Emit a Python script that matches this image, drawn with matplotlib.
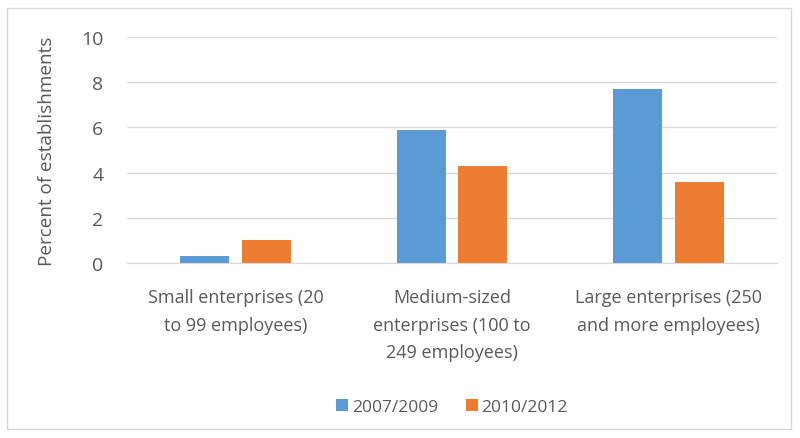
import matplotlib.pyplot as plt
import numpy as np
from matplotlib.patches import Rectangle

categorias = ["Small enterprises (20\nto 99 employees)",
              "Medium-sized\nenterprises (100 to\n249 employees)",
              "Large enterprises (250\nand more employees)"]
serie_2007 = [0.3, 5.9, 7.7]
serie_2010 = [1.0, 4.3, 3.6]
etiquetas = ["2007/2009", "2010/2012"]

plt.rcParams['font.family'] = ['Open Sans', 'DejaVu Sans']
gris = '#595959'

fig = plt.figure(figsize=(8, 4.39), dpi=100)
fig.patches.append(Rectangle((0.009, 0.02), 0.98, 0.96, transform=fig.transFigure,
                             fill=False, edgecolor='#d9d9d9', linewidth=1))
ax = fig.add_axes([0.159, 0.399, 0.812, 0.514])

x = np.arange(len(categorias))
ancho = 0.226
ax.bar(x - 0.143, serie_2007, ancho, color='#5b9bd5', label=etiquetas[0], zorder=3)
ax.bar(x + 0.143, serie_2010, ancho, color='#ed7d31', label=etiquetas[1], zorder=3)

ax.set_xlim(-0.5, 2.5)
ax.set_ylim(0, 10)
ax.set_yticks([0, 2, 4, 6, 8, 10])
ax.yaxis.grid(True, color='#d9d9d9', linewidth=1, zorder=0)
for s in ['top', 'right', 'left']:
    ax.spines[s].set_visible(False)
ax.spines['bottom'].set_color('#d9d9d9')
ax.tick_params(axis='x', length=0, colors=gris, labelsize=13, pad=18)
ax.tick_params(axis='y', length=0, colors=gris, labelsize=14, pad=17)
ax.set_xticks(x)
ax.set_xticklabels(categorias, linespacing=1.7)
ax.set_ylabel("Percent of establishments", color=gris, fontsize=13.6, labelpad=18)

ax.legend(loc='center', bbox_to_anchor=(0.5, -0.64), ncol=2, frameon=False,
          fontsize=12.5, labelcolor=gris, handlelength=0.7, handleheight=0.7,
          handletextpad=0.2, columnspacing=1.6)

fig.savefig("out.png", dpi=100)
